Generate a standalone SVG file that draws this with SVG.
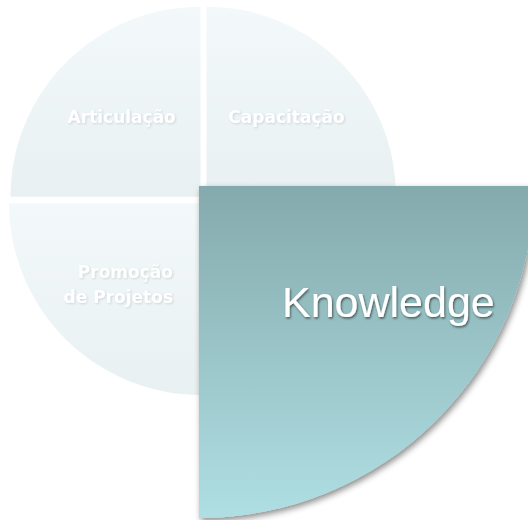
<svg xmlns="http://www.w3.org/2000/svg" width="528" height="520" viewBox="0 0 528 520">
  <defs>
    <linearGradient id="gLight" x1="0" y1="0" x2="0" y2="1">
      <stop offset="0" stop-color="#F3F9FA"/>
      <stop offset="1" stop-color="#E9F0F1"/>
    </linearGradient>
    <linearGradient id="gTeal" x1="0" y1="0" x2="0" y2="1">
      <stop offset="0" stop-color="#85AAAD"/>
      <stop offset="1" stop-color="#AFDFE3"/>
    </linearGradient>
    <filter id="shadow" x="-10%" y="-10%" width="130%" height="130%">
      <feDropShadow dx="2" dy="3" stdDeviation="3" flood-color="#000" flood-opacity="0.45"/>
    </filter>
    <filter id="txtShadow" x="-10%" y="-20%" width="130%" height="150%">
      <feDropShadow dx="1" dy="1.5" stdDeviation="1" flood-color="#000" flood-opacity="0.55"/>
    </filter>
    <filter id="txtShadowLight" x="-10%" y="-20%" width="130%" height="150%">
      <feDropShadow dx="1" dy="1" stdDeviation="1" flood-color="#8a9a9c" flood-opacity="0.35"/>
    </filter>
  </defs>
  <style>
    .small { font-family: "DejaVu Sans", "Liberation Sans", sans-serif; font-size: 17px; font-weight: bold; fill: #FFFFFF; }
    .big { font-family: "Liberation Sans", Arial, sans-serif; font-size: 43px; fill: #FFFFFF; }
  </style>
  <rect width="528" height="520" fill="#FFFFFF"/>
  <g id="articulacao">
    <path d="M200.5,196.7 L10.5,196.7 A190,190 0 0 1 200.5,6.7 Z" fill="url(#gLight)"/>
    <text class="small" x="121.7" y="123" text-anchor="middle" filter="url(#txtShadowLight)">Articulação</text>
  </g>
  <g id="capacitacao">
    <path d="M206.5,196.7 L206.5,6.7 A189.5,189.5 0 0 1 396,196.7 Z" fill="url(#gLight)"/>
    <text class="small" x="286.5" y="123" text-anchor="middle" filter="url(#txtShadowLight)">Capacitação</text>
  </g>
  <g id="promocao">
    <path d="M200.5,203.3 L200.5,395 A192,192 0 0 1 9,203.3 Z" fill="url(#gLight)"/>
    <text class="small" text-anchor="end" filter="url(#txtShadowLight)"><tspan x="173" y="278">Promoção</tspan><tspan x="173" y="303">de Projetos</tspan></text>
  </g>
  <g id="knowledge">
    <path d="M199,186 L534,186 A335,332 0 0 1 199,518 Z" fill="url(#gTeal)" filter="url(#shadow)"/>
    <text class="big" x="282" y="317" filter="url(#txtShadow)">Knowledge</text>
  </g>
  <g id="connectors"/>
</svg>
